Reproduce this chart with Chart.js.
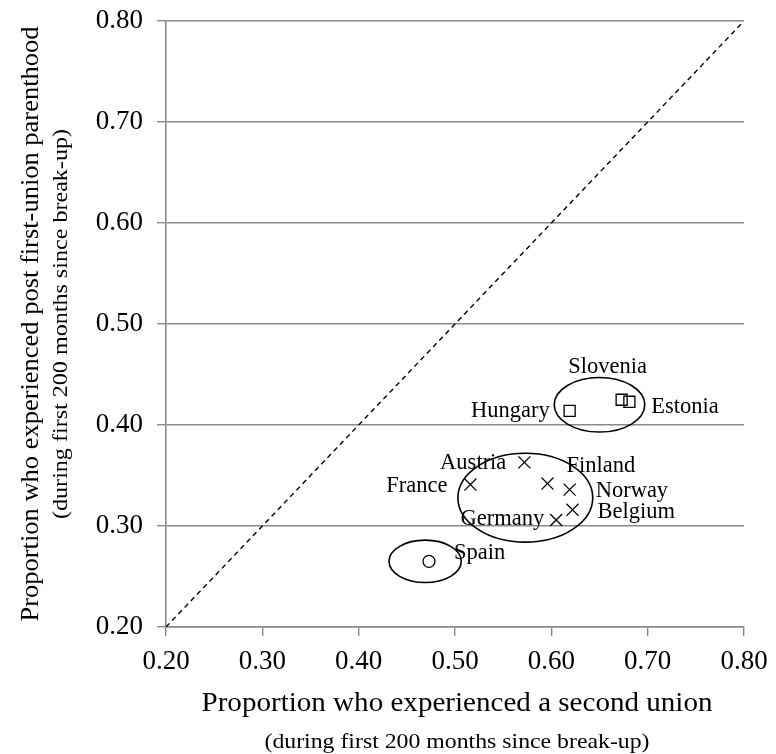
<!DOCTYPE html>
<html>
<head>
<meta charset="utf-8">
<script src="https://cdn.jsdelivr.net/npm/chart.js@4/dist/chart.umd.min.js"></script>
<style>
  html, body { margin: 0; padding: 0; background: #fff; }
  #wrap { position: relative; width: 776px; height: 754px; }
</style>
</head>
<body>
<div id="wrap"><canvas id="c" width="776" height="754"></canvas></div>
<script>
// Country values: share with a second union vs. share with post first-union parenthood
const countries      = ['Hungary', 'Slovenia', 'Estonia', 'Austria', 'France', 'Finland', 'Norway', 'Belgium', 'Germany', 'Spain'];
const secondUnion    = [0.619, 0.673, 0.681, 0.572, 0.516, 0.596, 0.619, 0.622, 0.605, 0.473];
const postParenthood = [0.414, 0.425, 0.423, 0.363, 0.341, 0.342, 0.336, 0.316, 0.306, 0.265];
const countryGroup   = ['east', 'east', 'east', 'west', 'west', 'west', 'west', 'west', 'west', 'south'];

// Group outlines (centre and half-extent, in axis units)
const groupNames   = ['east', 'west', 'south'];
const groupCentreX = [0.650, 0.573, 0.469];
const groupCentreY = [0.420, 0.328, 0.265];
const groupHalfX   = [0.047, 0.070, 0.0375];
const groupHalfY   = [0.027, 0.044, 0.021];

// Axis ticks
const xTicks = [0.20, 0.30, 0.40, 0.50, 0.60, 0.70, 0.80];
const yTicks = [0.20, 0.30, 0.40, 0.50, 0.60, 0.70, 0.80];

// Reference line of equal proportions
const diagonal = [0.20, 0.80];

const serif = "'Liberation Serif', 'Times New Roman', serif";
const gridGrey = '#8a8a8a';

function pointsOf(group) {
  const out = [];
  countries.forEach((c, i) => {
    if (countryGroup[i] === group) out.push({ x: secondUnion[i], y: postParenthood[i], name: c });
  });
  return out;
}

// Label placement relative to each marker: [dx, dy, align]
const labelPlace = {
  Hungary:  [-20,  6.5, 'right'],
  Slovenia: [-14, -27, 'center'],
  Estonia:  [ 22, 11.5, 'left'],
  Austria:  [-18,  7, 'right'],
  France:   [-23,  7.5, 'right'],
  Finland:  [ 19, -11.5, 'left'],
  Norway:   [ 26,  7, 'left'],
  Belgium:  [ 25,  8.5, 'left'],
  Germany:  [-12,  5, 'right'],
  Spain:    [ 25, -2.5, 'left']
};

// Draws a centred line of text, stretched horizontally to the given width
function stretchedText(ctx, text, font, width, x, y) {
  ctx.save();
  ctx.font = font;
  const natural = ctx.measureText(text).width;
  ctx.translate(x, y);
  ctx.scale(width / natural, 1);
  ctx.textAlign = 'center';
  ctx.fillText(text, 0, 0);
  ctx.restore();
}

const decorations = {
  id: 'decorations',
  afterDatasetsDraw(chart) {
    const { ctx, scales: { x, y } } = chart;
    ctx.save();
    // group outlines
    ctx.strokeStyle = '#000';
    ctx.lineWidth = 1.6;
    groupNames.forEach((g, i) => {
      const cx = x.getPixelForValue(groupCentreX[i]);
      const cy = y.getPixelForValue(groupCentreY[i]);
      const rx = Math.abs(x.getPixelForValue(groupCentreX[i] + groupHalfX[i]) - cx);
      const ry = Math.abs(y.getPixelForValue(groupCentreY[i] + groupHalfY[i]) - cy);
      ctx.beginPath();
      ctx.ellipse(cx, cy, rx, ry, 0, 0, Math.PI * 2);
      ctx.stroke();
    });
    // country names
    ctx.fillStyle = '#000';
    ctx.font = '22.5px ' + serif;
    ctx.textBaseline = 'alphabetic';
    countries.forEach((c, i) => {
      const p = labelPlace[c];
      ctx.textAlign = p[2];
      ctx.fillText(c, x.getPixelForValue(secondUnion[i]) + p[0], y.getPixelForValue(postParenthood[i]) + p[1]);
    });
    ctx.restore();
  },
  afterDraw(chart) {
    const { ctx, chartArea } = chart;
    ctx.save();
    ctx.fillStyle = '#000';
    ctx.textBaseline = 'alphabetic';
    const midX = (chartArea.left + chartArea.right) / 2;
    stretchedText(ctx, 'Proportion who experienced a second union', '27px ' + serif, 511, midX + 2, 711);
    stretchedText(ctx, '(during first 200 months since break-up)', '21px ' + serif, 385, midX + 2, 748);

    const midY = (chartArea.top + chartArea.bottom) / 2;
    ctx.translate(0, midY);
    ctx.rotate(-Math.PI / 2);
    stretchedText(ctx, 'Proportion who experienced post first-union parenthood', '26px ' + serif, 595, 0, 38);
    stretchedText(ctx, '(during first 200 months since break-up)', '21px ' + serif, 390, 0, 67);
    ctx.restore();
  }
};

const markerBase = { backgroundColor: 'rgba(0,0,0,0)', borderColor: '#000', borderWidth: 1.3, pointHoverRadius: 0 };

new Chart(document.getElementById('c'), {
  type: 'scatter',
  data: {
    datasets: [
      {
        type: 'line',
        data: diagonal.map(v => ({ x: v, y: v })),
        borderColor: '#000', borderWidth: 1.4, borderDash: [5, 4],
        pointRadius: 0, fill: false, tension: 0
      },
      Object.assign({ data: pointsOf('east'), pointStyle: 'rect', pointRadius: 7.8 }, markerBase),
      Object.assign({ data: pointsOf('west'), pointStyle: 'crossRot', pointRadius: 8.5 }, markerBase),
      Object.assign({ data: pointsOf('south'), pointStyle: 'circle', pointRadius: 6 }, markerBase)
    ]
  },
  options: {
    responsive: false,
    animation: false,
    devicePixelRatio: 1,
    layout: { padding: { top: 21, right: 32, left: 0, bottom: 0 } },
    plugins: { legend: { display: false }, tooltip: { enabled: false } },
    scales: {
      x: {
        type: 'linear', min: 0.2, max: 0.8,
        afterBuildTicks: s => { s.ticks = xTicks.map(v => ({ value: v })); },
        afterFit: s => { s.height = 127; s.paddingLeft = 0; s.paddingRight = 0; },
        grid: { drawOnChartArea: false, color: gridGrey, lineWidth: 1.4, tickLength: 9 },
        border: { color: gridGrey, width: 1.6 },
        ticks: { color: '#000', font: { family: serif, size: 27 }, padding: 10, maxRotation: 0,
                 callback: v => Number(v).toFixed(2) }
      },
      y: {
        type: 'linear', min: 0.2, max: 0.8,
        afterBuildTicks: s => { s.ticks = yTicks.map(v => ({ value: v })); },
        afterFit: s => { s.width = 166; s.paddingTop = 0; s.paddingBottom = 0; },
        grid: { color: gridGrey, lineWidth: 1.4, tickLength: 9 },
        border: { color: gridGrey, width: 1.6 },
        ticks: { color: '#000', font: { family: serif, size: 27 }, padding: 14,
                 callback: v => Number(v).toFixed(2) }
      }
    }
  },
  plugins: [decorations]
});
</script>
</body>
</html>
